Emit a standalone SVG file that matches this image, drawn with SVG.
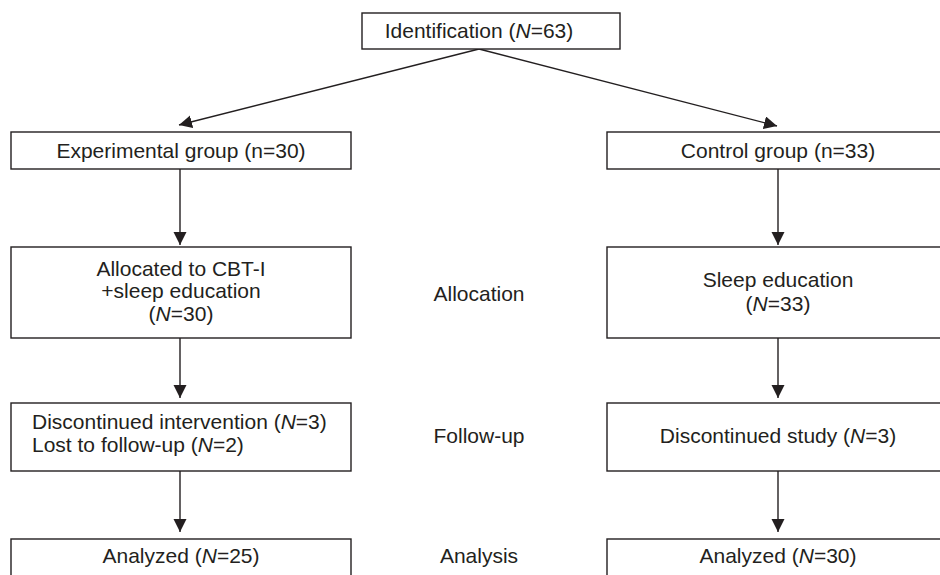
<svg xmlns="http://www.w3.org/2000/svg" width="940" height="575" viewBox="0 0 940 575">
<style>
.box{fill:#fff;stroke:#231f20;stroke-width:1.4}
.t{font-family:"Liberation Sans",Arial,sans-serif;font-size:21px;fill:#231f20}
.c{text-anchor:middle}
.edge{stroke:#231f20;stroke-width:1.4;fill:none;marker-end:url(#ah)}
</style>
<defs>
<marker id="ah" markerUnits="userSpaceOnUse" markerWidth="14" markerHeight="14" refX="13" refY="6.5" orient="auto">
<path d="M0,0 L13,6.5 L0,13 z" fill="#231f20"/>
</marker>
</defs>
<rect width="940" height="575" fill="#fff"/>
<g id="connectors">
<line class="edge" x1="479" y1="49" x2="179" y2="125"/>
<line class="edge" x1="479" y1="49" x2="777" y2="126"/>
<line class="edge" x1="180" y1="169" x2="180" y2="245"/>
<line class="edge" x1="180" y1="338" x2="180" y2="398"/>
<line class="edge" x1="180" y1="471" x2="180" y2="532"/>
<line class="edge" x1="778" y1="169" x2="778" y2="245"/>
<line class="edge" x1="778" y1="338" x2="778" y2="398"/>
<line class="edge" x1="778" y1="471" x2="778" y2="532"/>
</g>
<g id="identification">
<rect class="box" x="362" y="13" width="258" height="36"/>
<text class="t c" x="479" y="38">Identification (<tspan font-style="italic">N</tspan>=63)</text>
</g>
<g id="experimental">
<rect class="box" x="11" y="132" width="340" height="37"/>
<text class="t c" x="181" y="158">Experimental group (n=30)</text>
</g>
<g id="control">
<rect class="box" x="607" y="132" width="342" height="37"/>
<text class="t c" x="778" y="158">Control group (n=33)</text>
</g>
<g id="alloc-exp">
<rect class="box" x="11" y="247" width="340" height="91"/>
<text class="t c" x="181" y="276">Allocated to CBT-I</text>
<text class="t c" x="181" y="298">+sleep education</text>
<text class="t c" x="181" y="321">(<tspan font-style="italic">N</tspan>=30)</text>
</g>
<g id="alloc-ctl">
<rect class="box" x="607" y="247" width="342" height="91"/>
<text class="t c" x="778" y="287">Sleep education</text>
<text class="t c" x="778" y="311">(<tspan font-style="italic">N</tspan>=33)</text>
</g>
<g id="follow-exp">
<rect class="box" x="11" y="403" width="340" height="68"/>
<text class="t" x="32" y="429">Discontinued intervention (<tspan font-style="italic">N</tspan>=3)</text>
<text class="t" x="32" y="452">Lost to follow-up (<tspan font-style="italic">N</tspan>=2)</text>
</g>
<g id="follow-ctl">
<rect class="box" x="607" y="403" width="342" height="68"/>
<text class="t c" x="778" y="443">Discontinued study (<tspan font-style="italic">N</tspan>=3)</text>
</g>
<g id="analysis-exp">
<rect class="box" x="11" y="539" width="340" height="50"/>
<text class="t c" x="181" y="563">Analyzed (<tspan font-style="italic">N</tspan>=25)</text>
</g>
<g id="analysis-ctl">
<rect class="box" x="607" y="539" width="342" height="50"/>
<text class="t c" x="778" y="563">Analyzed (<tspan font-style="italic">N</tspan>=30)</text>
</g>
<g id="labels">
<text class="t c" x="479" y="301">Allocation</text>
<text class="t c" x="479" y="443">Follow-up</text>
<text class="t c" x="479" y="563">Analysis</text>
</g>
</svg>
